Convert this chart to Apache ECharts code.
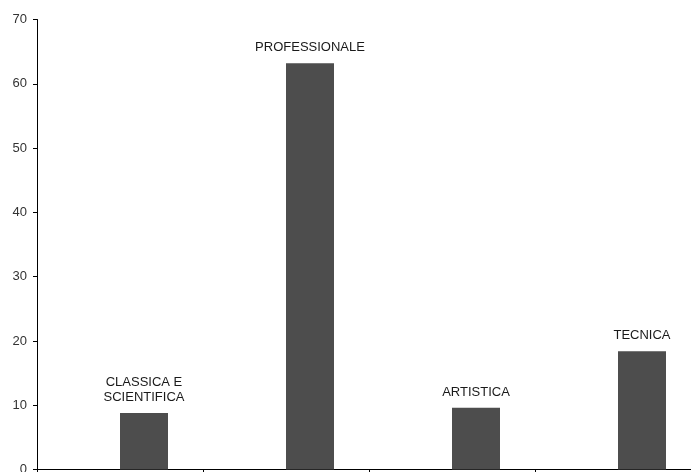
<!DOCTYPE html>
<html>
<head>
<meta charset="utf-8">
<script src="https://cdn.jsdelivr.net/npm/echarts@6/dist/echarts.min.js"></script>
<style>html,body{margin:0;padding:0;background:#fff;overflow:hidden;width:691px;height:472px;}#c{width:701px;height:472px;}</style>
</head>
<body>
<div id="c"></div>
<script>
const categories = ['CLASSICA E\nSCIENTIFICA', 'PROFESSIONALE', 'ARTISTICA', 'TECNICA'];
const emptySeries = [null, null, null, null];
const values = [8.8, 63.2, 9.6, 18.4];
const yTicks = { min: 0, max: 70, interval: 10 };

const chart = echarts.init(document.getElementById('c'), null, { renderer: 'canvas' });
chart.setOption({
  animation: false,
  backgroundColor: '#ffffff',
  grid: { left: 37, top: 19.5, right: 0, height: 450, containLabel: false, outerBoundsMode: 'none' },
  xAxis: {
    type: 'category',
    data: categories,
    boundaryGap: true,
    axisLine: { show: true, lineStyle: { color: '#000', width: 1 } },
    axisTick: { show: true, length: 4, lineStyle: { color: '#000' } },
    axisLabel: { show: false },
    splitLine: { show: false }
  },
  yAxis: {
    type: 'value',
    min: yTicks.min, max: yTicks.max, interval: yTicks.interval,
    axisLine: { show: true, lineStyle: { color: '#000', width: 1 } },
    axisTick: { show: true, length: 4, lineStyle: { color: '#000' } },
    axisLabel: { color: '#333', fontSize: 13, fontFamily: 'Liberation Sans, Arial, sans-serif', margin: 10 },
    splitLine: { show: false }
  },
  series: [
    {
      type: 'bar',
      data: emptySeries,
      barWidth: 48,
      barGap: '0%',
      itemStyle: { color: '#4d4d4d' }
    },
    {
      type: 'bar',
      data: values,
      barWidth: 48,
      barGap: '0%',
      itemStyle: { color: '#4d4d4d' },
      label: {
        show: true,
        position: 'top',
        distance: 8,
        formatter: p => categories[p.dataIndex],
        color: '#1a1a1a',
        fontSize: 13,
        lineHeight: 15,
        fontFamily: 'Liberation Sans, Arial, sans-serif'
      }
    }
  ]
});
</script>
</body>
</html>
